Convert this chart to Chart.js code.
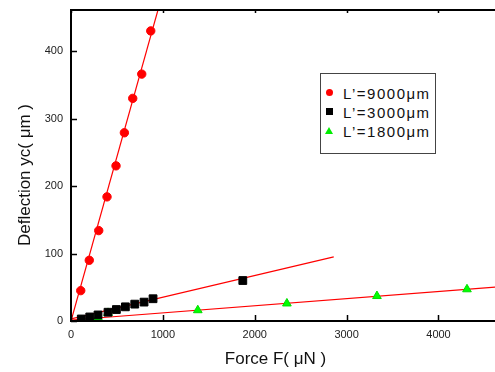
<!DOCTYPE html>
<html><head><meta charset="utf-8">
<script src="https://cdn.jsdelivr.net/npm/chart.js@4/dist/chart.umd.min.js"></script>
<style>
html,body{margin:0;padding:0;background:#fff;}
#wrap{position:relative;width:495px;height:372px;overflow:hidden;}
#c{position:absolute;left:0;top:0;}
#legend{position:absolute;left:320px;top:73px;width:114px;height:79px;border:1px solid #444;background:#fff;}
.mk{position:absolute;}
.txt{position:absolute;left:22px;height:18px;line-height:18px;font-family:'Liberation Sans',Arial,sans-serif;font-size:15px;letter-spacing:1.5px;color:#111;white-space:nowrap;}
</style></head>
<body>
<div id="wrap">
<canvas id="c" width="495" height="372"></canvas>
<div id="legend">
  <div class="mk" style="left:5px;top:15px;width:7px;height:7px;border-radius:50%;background:#ff0000;"></div>
  <div class="txt" style="top:11px;">L’=9000μm</div>
  <div class="mk" style="left:5px;top:34px;width:7px;height:7px;background:#000;"></div>
  <div class="txt" style="top:30px;">L’=3000μm</div>
  <div class="mk" style="left:4px;top:53px;width:0;height:0;border-left:4px solid transparent;border-right:4px solid transparent;border-bottom:7px solid #00ee00;"></div>
  <div class="txt" style="top:49px;">L’=1800μm</div>
</div>
</div>
<script>
// ---- data ----
const force9000 = [106, 199, 302, 392, 490, 581, 672, 770, 868];
const defl9000  = [45, 90, 134, 184, 230, 279, 330, 366, 430];
const force3000 = [112, 204, 294, 403, 494, 592, 694, 795, 893, 1870];
const defl3000  = [3, 6, 9, 13, 17, 21, 25, 28, 33, 60];
const force1800 = [112, 204, 294, 403, 1380, 2350, 3330, 4310];
const defl1800  = [1, 2, 5, 12, 16, 26, 37, 47];
// fitted lines (end points)
const fit9000F = [0, 1000];
const fit9000Y = [0, 487];
const fit3000F = [0, 2860];
const fit3000Y = [3, 95];
const fit1800F = [0, 4700];
const fit1800Y = [1.5, 51];
// axis ticks
const xTicks = [0, 500, 1000, 1500, 2000, 2500, 3000, 3500, 4000, 4500];
const xLabels = [0, 1000, 2000, 3000, 4000];
const yTicks = [0, 50, 100, 150, 200, 250, 300, 350, 400, 450];
const yLabels = [0, 100, 200, 300, 400];
const xMax = 4615, yMax = 461;
const xTitle = 'Force F( μN )';
const yTitle = 'Deflection yc( μm )';

const pts = (xs, ys) => xs.map((v, i) => ({x: v, y: ys[i]}));
const FONT = "'Liberation Sans', Arial, sans-serif";

const frameTicks = {
  id: 'frameTicks',
  afterDraw(chart) {
    const {ctx, chartArea: {left, top, right, bottom}, scales: {x, y}} = chart;
    ctx.save();
    ctx.strokeStyle = '#000';
    ctx.lineWidth = 2;
    ctx.beginPath();
    ctx.moveTo(left, top); ctx.lineTo(right + 5, top);
    ctx.moveTo(left, top - 1); ctx.lineTo(left, bottom + 1);
    ctx.moveTo(left - 1, bottom); ctx.lineTo(right + 5, bottom);
    ctx.stroke();
    ctx.lineWidth = 1.5;
    ctx.beginPath();
    x.ticks.forEach(t => {
      const px = Math.round(x.getPixelForValue(t.value)) + 0.5;
      const major = t.value % 1000 === 0;
      ctx.moveTo(px, bottom); ctx.lineTo(px, bottom - (major ? 6 : 3.5));
      ctx.moveTo(px, top); ctx.lineTo(px, top + (major ? 3 : 2.5));
    });
    y.ticks.forEach(t => {
      const py = Math.round(y.getPixelForValue(t.value)) + 0.5;
      const major = t.value % 100 === 0;
      ctx.moveTo(left, py); ctx.lineTo(left + (major ? 6 : 4), py);
    });
    ctx.stroke();
    // axis titles
    ctx.fillStyle = '#111';
    ctx.font = '17px ' + FONT;
    ctx.textAlign = 'center';
    ctx.textBaseline = 'alphabetic';
    ctx.fillText(xTitle, 275.5, 363.5);
    ctx.translate(30, 175);
    ctx.rotate(-Math.PI / 2);
    ctx.fillText(yTitle, 0, 0);
    ctx.restore();
  }
};

const tickFont = {family: FONT, size: 11};

new Chart(document.getElementById('c'), {
  type: 'scatter',
  data: {
    datasets: [
      {label: "L’=9000μm", data: pts(force9000, defl9000), pointStyle: 'circle', pointRadius: 4.2,
       backgroundColor: '#ff0000', borderColor: '#ff0000', borderWidth: 1, order: 0},
      {label: "L’=3000μm", data: pts(force3000, defl3000), pointStyle: 'rect', pointRadius: 5.5,
       backgroundColor: '#000000', borderColor: '#000000', borderWidth: 1, order: 0},
      {label: "L’=1800μm", data: pts(force1800, defl1800), pointStyle: 'triangle', pointRadius: 5,
       backgroundColor: '#00ff00', borderColor: '#00dd00', borderWidth: 1, order: 0},
      {label: 'fit 9000', type: 'line', data: pts(fit9000F, fit9000Y), showLine: true, pointRadius: 0,
       borderColor: '#ff0000', borderWidth: 1.2, fill: false, order: 1},
      {label: 'fit 3000', type: 'line', data: pts(fit3000F, fit3000Y), showLine: true, pointRadius: 0,
       borderColor: '#ff0000', borderWidth: 1.2, fill: false, order: 1},
      {label: 'fit 1800', type: 'line', data: pts(fit1800F, fit1800Y), showLine: true, pointRadius: 0,
       borderColor: '#ff0000', borderWidth: 1.2, fill: false, order: 1}
    ]
  },
  options: {
    responsive: false,
    animation: false,
    devicePixelRatio: 1,
    layout: {autoPadding: false, padding: {top: 10, right: 0, left: 0, bottom: 0}},
    plugins: {legend: {display: false}, tooltip: {enabled: false}},
    scales: {
      x: {
        type: 'linear', min: 0, max: xMax,
        afterBuildTicks: s => { s.ticks = xTicks.map(v => ({value: v})); },
        afterFit: s => { s.height = 51; s.paddingRight = 0; s.paddingLeft = 0; },
        grid: {display: false, drawTicks: false},
        border: {display: false},
        ticks: {autoSkip: false, maxRotation: 0, padding: 7, color: '#222', font: tickFont,
                callback: v => xLabels.includes(v) ? String(v) : null},
        title: {display: false}
      },
      y: {
        type: 'linear', min: 0, max: yMax,
        afterBuildTicks: s => { s.ticks = yTicks.map(v => ({value: v})); },
        afterFit: s => { s.width = 71; s.paddingTop = 0; s.paddingBottom = 0; },
        grid: {display: false, drawTicks: false},
        border: {display: false},
        ticks: {autoSkip: false, padding: 8, color: '#222', font: tickFont,
                callback: v => yLabels.includes(v) ? String(v) : null},
        title: {display: false}
      }
    }
  },
  plugins: [frameTicks]
});
</script>
</body></html>
